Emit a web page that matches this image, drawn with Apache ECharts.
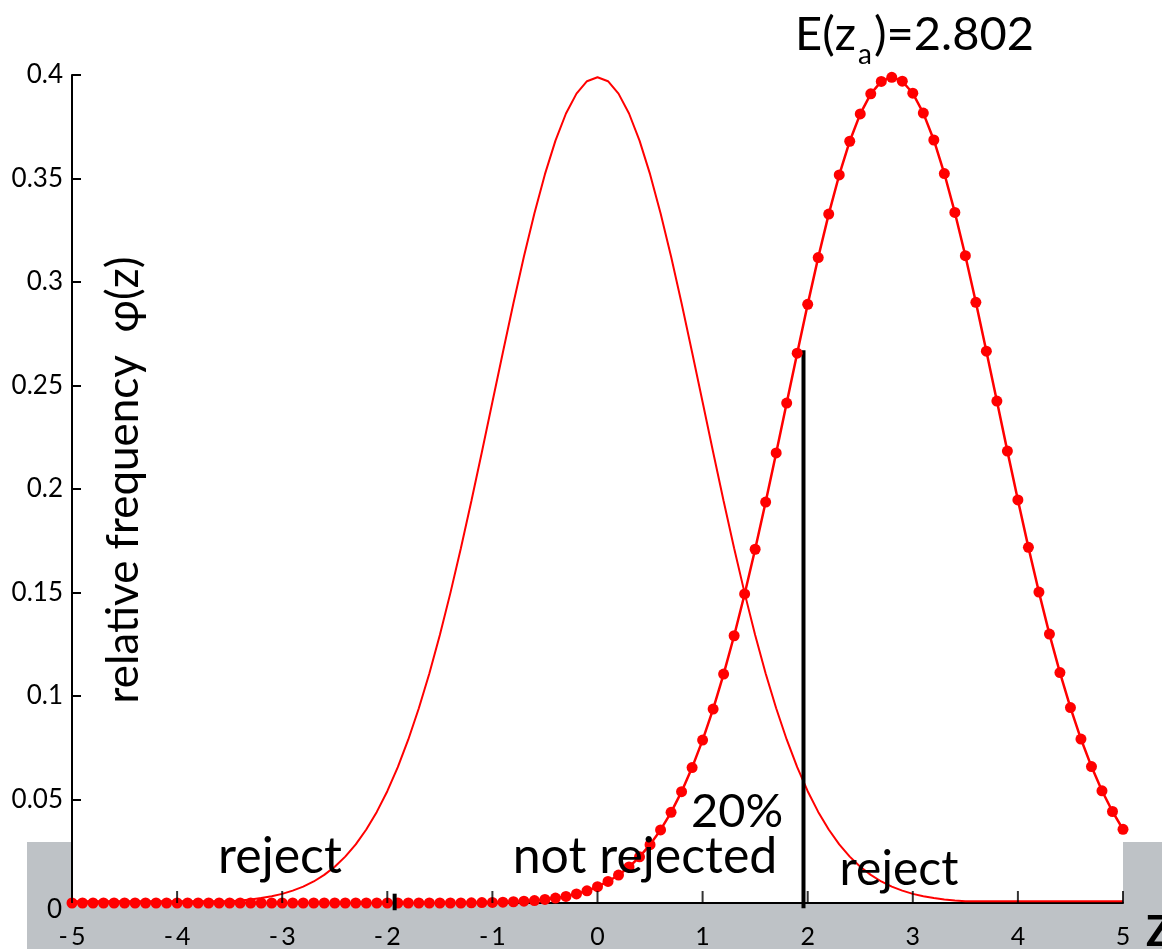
<!DOCTYPE html>
<html>
<head>
<meta charset="utf-8">
<script src="https://cdn.jsdelivr.net/npm/echarts@6/dist/echarts.min.js"></script>
<style>
html,body{margin:0;padding:0;background:#fff;}
#chart{width:1162px;height:949px;}
</style>
</head>
<body>
<div id="chart"></div>
<script>
// z grid (x positions)
const zGrid = [-5.0,-4.9,-4.8,-4.7,-4.6,-4.5,-4.4,-4.3,-4.2,-4.1,-4.0,-3.9,-3.8,-3.7,-3.6,-3.5,-3.4,-3.3,-3.2,-3.1,-3.0,-2.9,-2.8,-2.7,-2.6,-2.5,-2.4,-2.3,-2.2,-2.1,-2.0,-1.9,-1.8,-1.7,-1.6,-1.5,-1.4,-1.3,-1.2,-1.1,-1.0,-0.9,-0.8,-0.7,-0.6,-0.5,-0.4,-0.3,-0.2,-0.1,0.0,0.1,0.2,0.3,0.4,0.5,0.6,0.7,0.8,0.9,1.0,1.1,1.2,1.3,1.4,1.5,1.6,1.7,1.8,1.9,2.0,2.1,2.2,2.3,2.4,2.5,2.6,2.7,2.8,2.9,3.0,3.1,3.2,3.3,3.4,3.5,3.6,3.7,3.8,3.9,4.0,4.1,4.2,4.3,4.4,4.5,4.6,4.7,4.8,4.9,5.0];

// null hypothesis curve (thin red line)
const nullCurve = [0.0008,0.0008,0.0008,0.0008,0.0008,0.0008,0.0008,0.0008,0.0008,0.0008,0.0008,0.0008,0.0008,0.0008,0.0008,
0.0009,0.0012,0.0017,0.0024,0.0033,0.0044,0.0060,0.0079,0.0104,0.0136,0.0175,0.0224,0.0283,0.0355,0.0440,0.0540,0.0656,0.0790,0.0941,0.1109,0.1295,0.1497,0.1714,0.1942,0.2179,0.2420,0.2661,0.2897,0.3123,0.3332,0.3521,0.3683,0.3814,0.3910,0.3970,
0.3989,
0.3970,0.3910,0.3814,0.3683,0.3521,0.3332,0.3123,0.2897,0.2661,0.2420,0.2179,0.1942,0.1714,0.1497,0.1295,0.1109,0.0941,0.0790,0.0656,0.0540,0.0440,0.0355,0.0283,0.0224,0.0175,0.0136,0.0104,0.0079,0.0060,0.0044,0.0033,0.0024,0.0017,0.0012,0.0009,
0.0008,0.0008,0.0008,0.0008,0.0008,0.0008,0.0008,0.0008,0.0008,0.0008,0.0008,0.0008,0.0008,0.0008,0.0008];

// alternative hypothesis curve (red line with dots), centred at E(z_a)=2.802
const altCurve = [0,0,0,0,0,0,0,0,0,0,0,0,0,0,0,0,0,0,0,0,0,0,0,0,0,0,0,0,0,0,0,0,0,0,0,0,0,0,
0.0001,0.0002,0.0003,0.0004,0.0006,0.0009,0.0012,0.0017,0.0024,0.0032,0.0044,0.0059,
0.0079,0.0104,0.0135,0.0174,0.0223,0.0282,0.0353,0.0438,0.0538,0.0654,
0.0787,0.0937,0.1106,0.1291,0.1493,0.1709,0.1937,0.2174,0.2415,0.2656,
0.2892,0.3118,0.3328,0.3517,0.3680,0.3812,0.3909,0.3969,0.3989,0.3970,
0.3912,0.3816,0.3686,0.3524,0.3336,0.3127,0.2902,0.2666,0.2425,0.2183,
0.1947,0.1718,0.1502,0.1299,0.1113,0.0944,0.0792,0.0659,0.0542,0.0442,0.0356];

// critical value markers
const critRight = [[1.96, -0.0025], [1.96, 0.267]];
const critLeft = [[-1.93, -0.0035], [-1.93, 0.0045]];

const xTicks = [-5,-4,-3,-2,-1,0,1,2,3,4,5];
const xTickLabels = {'-5':'-\u20095','-4':'-\u20094','-3':'-\u20093','-2':'-\u20092','-1':'-\u20091','0':'0','1':'1','2':'2','3':'3','4':'4','5':'5'};
const yTickLabels = ['', '0.05', '0.1', '0.15', '0.2', '0.25', '0.3', '0.35', '0.4'];

const FONT = 'Lato';
const chart = echarts.init(document.getElementById('chart'), null, {renderer:'canvas'});

const nullData = zGrid.map((z,i)=>[z, nullCurve[i]]);
const altData = zGrid.map((z,i)=>[z, altCurve[i]]);

const option = {
  animation:false,
  backgroundColor:'#ffffff',
  grid:{left:72, right:39, top:75, bottom:46, containLabel:false},
  xAxis:{
    type:'value', min:-5, max:5, interval:1,
    axisLine:{show:true, onZero:false, lineStyle:{color:'#000', width:2}},
    axisTick:{show:false},
    axisLabel:{color:'#000', fontFamily:FONT, fontSize:25, margin:21,
      formatter:(v)=>xTickLabels[String(Math.round(v))]},
    splitLine:{show:false}
  },
  yAxis:{
    type:'value', min:0, max:0.4, interval:0.05,
    axisLine:{show:true, onZero:false, lineStyle:{color:'#000', width:2}},
    axisTick:{show:true, inside:true, length:9, lineStyle:{color:'#000', width:2}},
    axisLabel:{color:'#000', fontFamily:FONT, fontSize:26, margin:9,
      formatter:(v)=>yTickLabels[Math.round(v/0.05)]},
    splitLine:{show:false}
  },
  graphic:[
    {type:'rect', z:-10, silent:true, shape:{x:27, y:842, width:45, height:107}, style:{fill:'#bec2c6'}},
    {type:'rect', z:-10, silent:true, shape:{x:72, y:903, width:1051, height:46}, style:{fill:'#bec2c6'}},
    {type:'rect', z:-10, silent:true, shape:{x:1123, y:842, width:39, height:107}, style:{fill:'#bec2c6'}},
    {type:'text', z:100, left:47, top:897, style:{text:'0', fontFamily:FONT, fontSize:26, fill:'#000'}},
    {type:'text', z:100, x:1146, y:932, style:{text:'Z', fontFamily:FONT, fontSize:42, fontWeight:'bold', fill:'#000', verticalAlign:'middle', align:'left'}},
    {type:'text', z:100, x:124, y:480, rotation:Math.PI/2, style:{text:'relative frequency  \u03c6(z)', fontFamily:FONT, fontSize:44, fill:'#000', align:'center', verticalAlign:'middle'}},
    {type:'text', z:100, x:795, y:35, style:{text:'E(z', fontFamily:FONT, fontSize:47, fill:'#000', align:'left', verticalAlign:'middle'}},
    {type:'text', z:100, x:858, y:55, style:{text:'a', fontFamily:FONT, fontSize:28, fill:'#000', align:'left', verticalAlign:'middle'}},
    {type:'text', z:100, x:874, y:35, style:{text:')=2.802', fontFamily:FONT, fontSize:47, fill:'#000', align:'left', verticalAlign:'middle'}},
    {type:'text', z:100, x:280, y:857, style:{text:'reject', fontFamily:FONT, fontSize:50, fill:'#000', align:'center', verticalAlign:'middle'}},
    {type:'text', z:100, x:645, y:857, style:{text:'not rejected', fontFamily:FONT, fontSize:50, fill:'#000', align:'center', verticalAlign:'middle'}},
    {type:'text', z:100, x:737, y:812, style:{text:'20%', fontFamily:FONT, fontSize:47, fill:'#000', align:'center', verticalAlign:'middle'}},
    {type:'text', z:100, x:899, y:870, style:{text:'reject', fontFamily:FONT, fontSize:48, fill:'#000', align:'center', verticalAlign:'middle'}}
  ],
  series:[
    {type:'line', data:nullData, symbol:'none', lineStyle:{color:'#ff0000', width:2}, z:2},
    {type:'line', data:critRight, symbol:'none', clip:false, lineStyle:{color:'#000', width:4}, z:3},
    {type:'line', data:altData, symbol:'circle', symbolSize:11, showAllSymbol:true,
      itemStyle:{color:'#ff0000'}, lineStyle:{color:'#ff0000', width:2.5}, z:4},
    {type:'line', data:critLeft, symbol:'none', clip:false, lineStyle:{color:'#000', width:4}, z:6},
    // x-axis tick marks pointing into the plot, drawn at the axis tick values
    {type:'scatter', data:xTicks.map(v=>[v,0]), symbol:'rect', symbolSize:[2,12], symbolOffset:[0,-6],
      itemStyle:{color:'#000'}, clip:false, silent:true, z:7}
  ]
};
chart.setOption(option);
</script>
</body>
</html>
